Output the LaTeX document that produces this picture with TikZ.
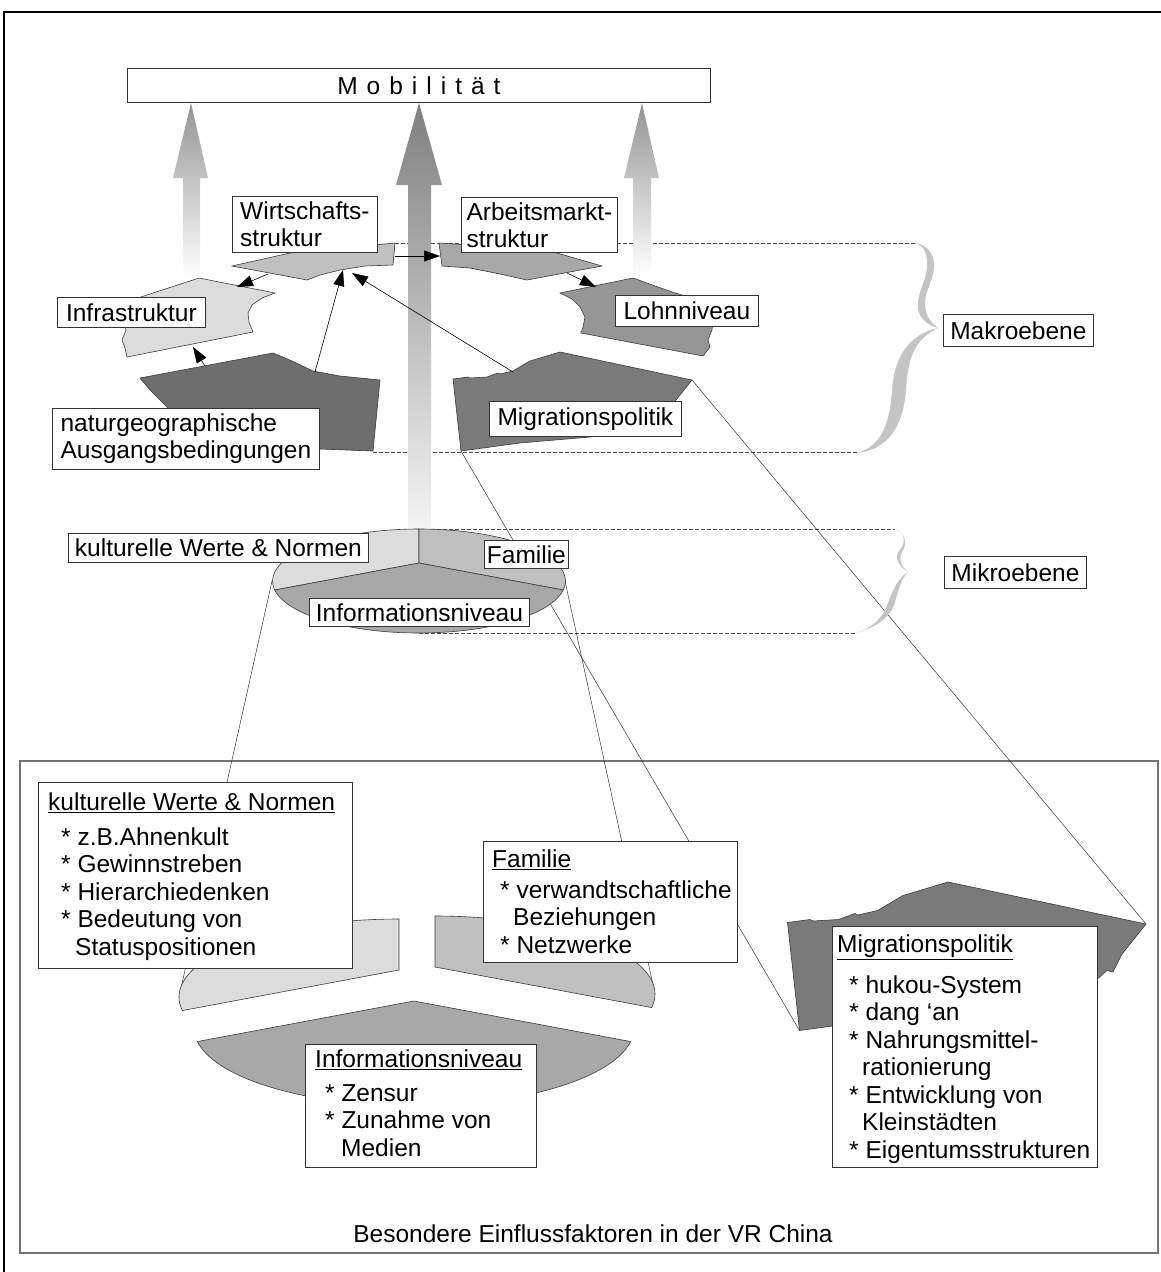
\documentclass[tikz,border=0pt]{standalone}
\usepackage{fontspec}
\setmainfont{Liberation Sans}
\usetikzlibrary{arrows.meta}
\definecolor{cInfra}{HTML}{DCDCDC}
\definecolor{cWirt}{HTML}{C0C0C0}
\definecolor{cArb}{HTML}{A8A8A8}
\definecolor{cLohn}{HTML}{969696}
\definecolor{cNatur}{HTML}{6E6E6E}
\definecolor{cMigr}{HTML}{7A7A7A}
\definecolor{cBrace}{HTML}{C4C4C4}
\definecolor{cEdge}{HTML}{3C3C3C}
\tikzset{
  sector/.style={draw=cEdge, line width=0.6pt},
  lbl/.style={draw=black!80, line width=0.8pt, fill=white, inner sep=0pt, anchor=north west, font=\fontsize{24.5}{27}\selectfont},
  boxonly/.style={draw=black!80, line width=0.8pt, fill=white, inner sep=0pt, anchor=north west},
  dtext/.style={inner sep=0pt, anchor=north west, align=left, font=\fontsize{24.5}{27.5}\selectfont},
  level/.style={dash pattern=on 4pt off 2pt, line width=0.5pt, draw=black!70},
  link/.style={line width=0.5pt, draw=black!80},
  infl/.style={line width=0.6pt, -{Triangle[length=16pt,width=11pt]}},
  migshape/.pic={
    \filldraw[sector, fill=cMigr] (0,0) -- (-30,9) -- (-47,19) -- (-60,22) -- (-62,21) -- (-73,25) -- (-90,26) -- (-92,25) -- (-107,27)
      -- (-99,99) -- (-40,91) -- (30,85) -- (90,73) -- (106,59) -- (110,60) -- (116,48) -- (124,38) -- (132,28) -- cycle;
  }
}
\begin{document}
\begin{tikzpicture}[x=1pt,y=-1pt]
\useasboundingbox (0,0) rectangle (1161,1272);
\fill[white] (0,0) rectangle (1161,1272);

% frames
\draw[line width=2.5pt] (4,1272) -- (4,12) -- (1161,12);
\draw[line width=1.2pt, draw=black!55] (20,761) rectangle (1158,1253);
\node[font=\fontsize{24.5}{27}\selectfont] (caption) at (593,1234) {Besondere Einflussfaktoren in der VR China};

% level lines
\coordinate (mkTopL) at (395,243); \coordinate (mkTopR) at (915,243);
\coordinate (mkBotL) at (373,452); \coordinate (mkBotR) at (857,452);
\coordinate (miTopL) at (419,529); \coordinate (miTopR) at (895,529);
\coordinate (miBotL) at (419,633); \coordinate (miBotR) at (856,633);
\draw[level] (mkTopL) -- (mkTopR);
\draw[level] (mkBotL) -- (mkBotR);
\draw[level] (miTopL) -- (miTopR);
\draw[level] (miBotL) -- (miBotR);

% links macro/micro -> detail
\coordinate (migBL) at (461,451); \coordinate (migR) at (692,380);
\coordinate (bmigBL) at (799.5,1030.5); \coordinate (bmigR) at (1146,924);
\coordinate (ellW) at (272,581); \coordinate (ellE) at (565,581);
\coordinate (kwW) at (179,997); \coordinate (famE) at (655,994);
\draw[link] (migBL) -- (bmigBL);
\draw[link] (migR) -- (bmigR);
\draw[link] (ellW) -- (kwW);
\draw[link] (ellE) -- (famE);

% macro sectors
\filldraw[sector, fill=cInfra] (199,278) -- (150,294) -- (123,303) -- (124,318) -- (126,330) -- (122,340) -- (125,348) -- (127,357)
  -- (253,332) -- (249,322) -- (248,313) -- (252,305) -- (262,298) -- (275,293) -- cycle;
\filldraw[sector, fill=cWirt] (232,266) -- (290,253) -- (395,243) -- (393,265) -- (365,266) -- (340,270) -- (320,275) -- (307,280) -- cycle;
\filldraw[sector, fill=cArb] (439,243) -- (442,266) -- (470,268) -- (500,274) -- (527,280) -- (602,266) -- (550,251) -- (500,247) -- cycle;
\filldraw[sector, fill=cLohn] (633,278) -- (672,292) -- (715,305) -- (712,330) -- (708,340) -- (710,347) -- (703,356)
  -- (581,333) -- (583,327) -- (585,317) -- (580,307) -- (572,299) -- (560,293) -- cycle;
\filldraw[sector, fill=cNatur] (140,378) -- (273,353) -- (292,361) -- (313,371) -- (340,376) -- (380,380) -- (373,451)
  -- (320,449) -- (200,440) -- (165,405) -- (150,390) -- cycle;
\pic at (560,352) {migshape};

% gradient arrows
\shade[top color=black!42, bottom color=white] (191,103) -- (208,178) -- (200,178) -- (200,277) -- (183,277) -- (183,178) -- (173,178) -- cycle;
\shade[top color=black!50, bottom color=black!4] (419,103) -- (442,185) -- (431,185) -- (431,530) -- (408,530) -- (408,185) -- (396,185) -- cycle;
\shade[top color=black!42, bottom color=white] (642,103) -- (659,178) -- (651,178) -- (651,275) -- (633,275) -- (633,178) -- (624,178) -- cycle;

% influence arrows
\coordinate (wA) at (268,274); \coordinate (infA) at (237,287);
\coordinate (natA) at (205,366); \coordinate (infB) at (193,347);
\coordinate (natB) at (315,372); \coordinate (wB) at (343,270);
\coordinate (migA) at (513,372); \coordinate (wC) at (352,273);
\coordinate (wD) at (395,256); \coordinate (arbA) at (440,256);
\coordinate (arbB) at (567,273); \coordinate (lohnA) at (596,287);
\draw[infl] (wA) -- (infA);
\draw[infl] (natA) -- (infB);
\draw[infl] (natB) -- (wB);
\draw[infl] (migA) -- (wC);
\draw[infl] (wD) -- (arbA);
\draw[infl] (arbB) -- (lohnA);

% macro labels
\node[lbl, minimum width=583pt, minimum height=34pt] (mob) at (127,68) {\spaceskip=9pt\relax M o b i l i t ä t};
\node[lbl, align=left, minimum width=145pt, minimum height=56pt] (wirt) at (232,196) {Wirtschafts-\\struktur};
\node[lbl, align=left, minimum width=156pt, minimum height=55pt] (arb) at (461,197) {Arbeitsmarkt-\\struktur};
\node[lbl, minimum width=148pt, minimum height=30pt] (infra) at (57,297) {Infrastruktur};
\node[lbl, minimum width=143pt, minimum height=31pt] (lohn) at (615,295) {Lohnniveau};
\node[lbl, align=left, minimum width=267pt, minimum height=61pt] (natur) at (52,408) {naturgeographische\\Ausgangsbedingungen};
\node[lbl, minimum width=192pt, minimum height=35pt] (migr) at (489,401) {Migrationspolitik};
\node[lbl, minimum width=150pt, minimum height=32pt] (makro) at (943,314) {Makroebene};
\node[lbl, minimum width=142pt, minimum height=32pt] (mikro) at (944,556) {Mikroebene};

% micro pie
\filldraw[sector, fill=cInfra] (419,563) -- (419,529) arc[start angle=270, end angle=170, x radius=146.5, y radius=52] -- cycle;
\filldraw[sector, fill=cWirt] (419,563) -- (419,529) arc[start angle=270, end angle=370, x radius=146.5, y radius=52] -- cycle;
\filldraw[sector, fill=cArb] (419,563) -- (274.73,590.03) arc[start angle=170, end angle=10, x radius=146.5, y radius=52] -- cycle;
\node[lbl, minimum width=300pt, minimum height=29pt] (kwnS) at (68,533) {kulturelle Werte \& Normen};
\node[lbl, minimum width=84pt, minimum height=28pt] (famS) at (484,540) {Familie};
\node[lbl, minimum width=220pt, minimum height=28pt] (infoS) at (309,598) {Informationsniveau};

% detail pieces
\filldraw[sector, fill=cInfra] (399,970) -- (399,919) arc[start angle=270, end angle=170, x radius=220, y radius=78] -- cycle;
\filldraw[sector, fill=cWirt] (435,967) -- (435,916) arc[start angle=270, end angle=370, x radius=220, y radius=78] -- cycle;
\filldraw[sector, fill=cArb] (414,1001) -- (197.34,1041.54) arc[start angle=170, end angle=10, x radius=220, y radius=78] -- cycle;
\pic[scale=1.5] at (948,882) {migshape};

% detail boxes
\node[boxonly, minimum width=314pt, minimum height=186pt] (kwBox) at (38,782) {};
\node[dtext] (kwText) at (48,792.5) {\underline{kulturelle Werte \& Normen}\\[7.5pt]\hspace*{13pt}* z.B.Ahnenkult\\\hspace*{13pt}* Gewinnstreben\\\hspace*{13pt}* Hierarchiedenken\\\hspace*{13pt}* Bedeutung von\\\hspace*{27pt}Statuspositionen};
\node[boxonly, minimum width=254pt, minimum height=121pt] (famBox) at (483,841) {};
\node[dtext] (famText) at (492,849.5) {\underline{Familie}\\[3.5pt]\hspace*{8pt}* verwandtschaftliche\\\hspace*{21pt}Beziehungen\\\hspace*{8pt}* Netzwerke};
\node[boxonly, minimum width=231pt, minimum height=123pt] (infoBox) at (305,1044) {};
\node[dtext] (infoText) at (315,1049.5) {\underline{Informationsniveau}\\[6.5pt]\hspace*{10pt}* Zensur\\\hspace*{10pt}* Zunahme von\\\hspace*{26pt}Medien};
\node[boxonly, minimum width=265pt, minimum height=241pt] (migBox) at (832,926) {};
\node[dtext] (migText) at (837,934.5) {\underline{Migrationspolitik}\\[13.5pt]\hspace*{12pt}* hukou-System\\\hspace*{12pt}* dang ‘an\\\hspace*{12pt}* Nahrungsmittel-\\\hspace*{25pt}rationierung\\\hspace*{12pt}* Entwicklung von\\\hspace*{25pt}Kleinstädten\\\hspace*{12pt}* Eigentumsstrukturen};

% braces
\fill[cBrace] (857,453) .. controls (880,447) and (890,425) .. (892,390) .. controls (895,352) and (912,334) .. (938,328)
  .. controls (930,326) and (924,322) .. (920,315) .. controls (913,300) and (925,285) .. (927,268)
  .. controls (928,255) and (925,246) .. (915,243)
  .. controls (922,244) and (930,248) .. (933,258) .. controls (937,270) and (930,282) .. (926,295)
  .. controls (922,312) and (930,322) .. (938,328)
  .. controls (918,338) and (908,352) .. (906,390) .. controls (903,430) and (885,450) .. (857,453) -- cycle;
\fill[cBrace] (895,529) .. controls (906,532) and (906,544) .. (899,551) .. controls (894,557) and (898,566) .. (908,572)
  .. controls (898,578) and (893,590) .. (888,603) .. controls (882,620) and (870,629) .. (856,633)
  .. controls (874,628) and (891,618) .. (895,602) .. controls (899,587) and (902,578) .. (908,572)
  .. controls (901,566) and (898,559) .. (902,552) .. controls (908,544) and (905,532) .. (895,529) -- cycle;
\end{tikzpicture}
\end{document}
